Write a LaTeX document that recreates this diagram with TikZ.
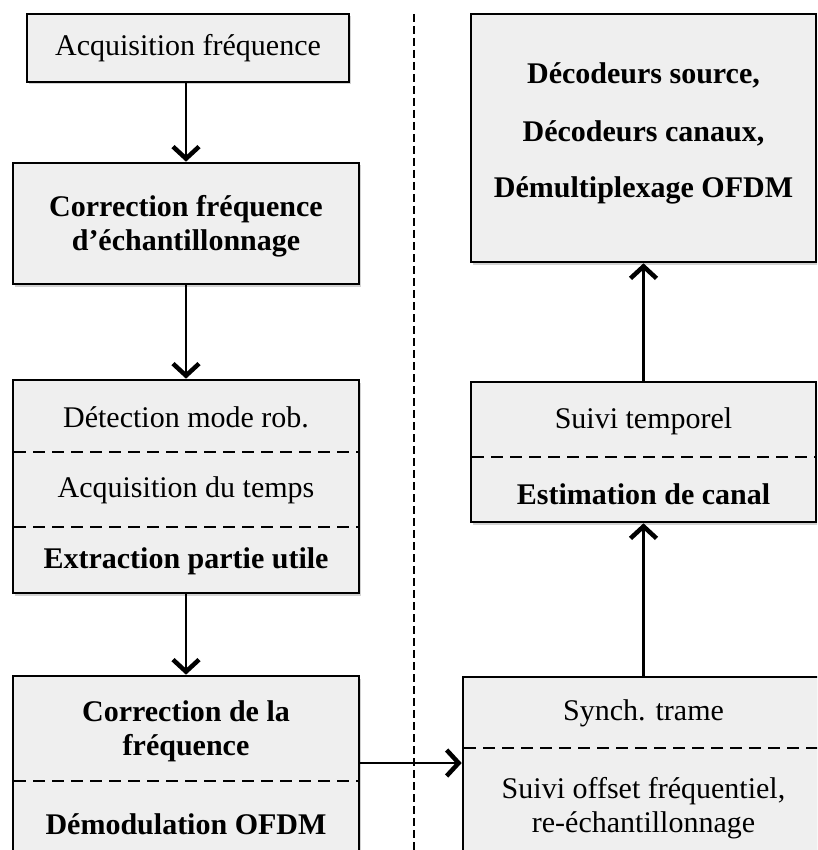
\documentclass[tikz,border=0pt]{standalone}
\usepackage{fontspec}
\setmainfont{Liberation Serif}
\usetikzlibrary{arrows.meta,shadows}
\definecolor{boxfill}{HTML}{EFEFEF}
\tikzset{
 blk/.style={draw=black, line width=2.6pt, fill=boxfill, rectangle, inner sep=0pt,
   drop shadow={opacity=0.35, shadow xshift=1.5pt, shadow yshift=-2.5pt}},
 txt/.style={font=\fontsize{30}{34}\selectfont, align=center, inner sep=0pt},
 btxt/.style={font=\fontsize{30}{34}\selectfont\bfseries, align=center, inner sep=0pt},
 sepline/.style={line width=2.6pt, dash pattern=on 12pt off 7pt},
 vsepline/.style={line width=2.6pt, dash pattern=on 8pt off 4pt},
 flow/.style={line width=2.6pt, -{Straight Barb[length=12pt,width=26pt,line width=4.5pt]}},
}
\begin{document}
\begin{tikzpicture}[x=1pt,y=-1pt]
\useasboundingbox (0,0) rectangle (817,850);
\clip (0,0) rectangle (817,850);
\fill[white] (0,0) rectangle (817,850);

% vertical separator
\coordinate (vtop) at (414,14);
\coordinate (vbot) at (414,852);
\draw[vsepline] (vtop) -- (vbot);

% left column
\node[blk, minimum width=322pt, minimum height=68pt] (b1) at (188,48) {};
\node[txt] (t1) at (188,48) {Acquisition fréquence};

\node[blk, minimum width=346pt, minimum height=121pt] (b2) at (186,223.5) {};
\node[btxt] (t2) at (186,226) {Correction fréquence\\d’échantillonnage};

\node[blk, minimum width=346pt, minimum height=213pt] (b3) at (186,486.5) {};
\draw[sepline] (14,452) -- (358,452);
\draw[sepline] (14,527) -- (358,527);
\node[txt] (t3a) at (186,417) {Détection mode rob.};
\node[txt] (t3b) at (186,490) {Acquisition du temps};
\node[btxt] (t3c) at (186,561) {Extraction partie utile};

\node[blk, minimum width=346pt, minimum height=204pt] (b4) at (186,778) {};
\draw[sepline] (14,781) -- (358,781);
\node[btxt] (t4a) at (186,731) {Correction de la\\fréquence};
\node[btxt] (t4b) at (186,824) {Démodulation OFDM};

% right column
\node[blk, minimum width=345pt, minimum height=248pt] (b7) at (643.5,138) {};
\node[btxt] (t7a) at (643.5,75) {Décodeurs source,};
\node[btxt] (t7b) at (643.5,133) {Décodeurs canaux,};
\node[btxt] (t7c) at (643.5,190) {Démultiplexage OFDM};

\node[blk, minimum width=345pt, minimum height=140pt] (b6) at (643.5,452) {};
\draw[sepline] (472,457) -- (815,457);
\node[txt] (t6a) at (643.5,421) {Suivi temporel};
\node[btxt] (t6b) at (643.5,494) {Estimation de canal};

\node[blk, minimum width=367pt, minimum height=203pt] (b5) at (646.5,778.5) {};
\draw[sepline] (464,748) -- (829,748);
\node[txt] (t5a) at (643.5,713) {Synch. trame};
\node[txt] (t5b) at (643.5,808) {Suivi offset fréquentiel,\\re-échantillonnage};

% connectors
\coordinate (a45) at (0,763);
\draw[flow] (b2.north |- b1.south) -- (b2.north);
\draw[flow] (b2.south) -- (b3.north);
\draw[flow] (b3.south) -- (b4.north);
\draw[flow] (b4.east |- a45) -- (b5.west |- a45);
\draw[flow] (b6.south |- b5.north) -- (b6.south);
\draw[flow] (b6.north) -- (b7.south);
\end{tikzpicture}
\end{document}
